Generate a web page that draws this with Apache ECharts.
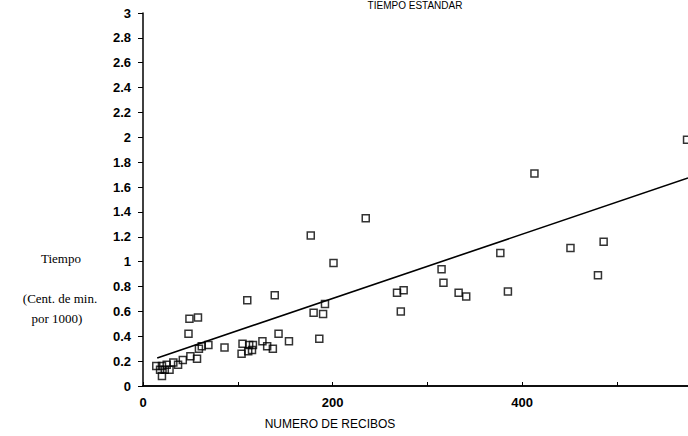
<!DOCTYPE html>
<html>
<head>
<meta charset="utf-8">
<script src="https://cdn.jsdelivr.net/npm/echarts@6/dist/echarts.min.js"></script>
<style>
html,body{margin:0;padding:0;background:#fff;}
#c{width:688px;height:436px;}
</style>
</head>
<body>
<div id="c"></div>
<script>
// Data
const recibosX = [574, 413, 235, 177, 201, 486, 451, 377, 480, 315, 317, 385, 268, 275, 272, 333, 341,
  192, 180, 190, 186, 139, 110, 143, 154, 137, 131, 126, 116, 112, 105, 104, 111, 115, 86, 69, 62, 59,
  49, 58, 48, 50, 57, 42, 37, 32, 14, 20, 25, 18, 23, 28, 20];
const tiempoY = [1.98, 1.71, 1.35, 1.21, 0.99, 1.16, 1.11, 1.07, 0.89, 0.94, 0.83, 0.76, 0.75, 0.77, 0.60, 0.75, 0.72,
  0.66, 0.59, 0.58, 0.38, 0.73, 0.69, 0.42, 0.36, 0.30, 0.32, 0.36, 0.33, 0.33, 0.34, 0.26, 0.28, 0.29, 0.31, 0.33, 0.32, 0.30,
  0.54, 0.55, 0.42, 0.24, 0.22, 0.21, 0.17, 0.19, 0.16, 0.16, 0.17, 0.13, 0.13, 0.13, 0.08];
const trendX = [15, 575];
const trendY = [0.226, 1.673];
const yTicks = [0, 0.2, 0.4, 0.6, 0.8, 1, 1.2, 1.4, 1.6, 1.8, 2, 2.2, 2.4, 2.6, 2.8, 3];
const xTickLabels = [0, 200, 400];

const points = recibosX.map((x, i) => [x, tiempoY[i]]);
const trend = trendX.map((x, i) => [x, trendY[i]]);

const serif = '13px "Liberation Serif", "Times New Roman", serif';
const chart = echarts.init(document.getElementById('c'), null, {renderer: 'svg'});
chart.setOption({
  animation: false,
  backgroundColor: '#fff',
  textStyle: {fontFamily: 'Liberation Sans, Arial, sans-serif', color: '#000'},
  title: {
    text: 'TIEMPO ESTANDAR',
    left: 415, top: 0, padding: 0, textAlign: 'center',
    textStyle: {fontSize: 10, fontWeight: 'normal', color: '#000', fontFamily: 'Liberation Sans, Arial, sans-serif'}
  },
  grid: {left: 143, right: 0, top: 13, bottom: 50, containLabel: false},
  xAxis: [{
    type: 'value', min: 0, max: 575, interval: 100,
    axisLine: {show: true, onZero: false, lineStyle: {color: '#000', width: 1.5}},
    axisTick: {show: true, inside: true, length: 4, lineStyle: {color: '#000'}},
    axisLabel: {
      showMaxLabel: false, margin: 10, fontSize: 13, fontWeight: 'bold', color: '#000',
      formatter: v => xTickLabels.indexOf(v) >= 0 ? String(v) : ''
    },
    splitLine: {show: false}
  }, {
    type: 'value', position: 'top', min: 0, max: 575,
    axisLine: {show: true, lineStyle: {color: '#000', width: 1.5}},
    axisTick: {show: false}, axisLabel: {show: false}, splitLine: {show: false}
  }],
  yAxis: {
    type: 'value', min: yTicks[0], max: yTicks[yTicks.length - 1], interval: 0.2,
    axisLine: {show: true, onZero: false, lineStyle: {color: '#000', width: 1.5}},
    axisTick: {show: true, length: 5, lineStyle: {color: '#000'}},
    axisLabel: {margin: 12, fontSize: 13, fontWeight: 'bold', color: '#000'},
    splitLine: {show: false}
  },
  series: [{
    type: 'scatter', xAxisIndex: 0, data: points, symbol: 'rect', symbolSize: 7,
    itemStyle: {color: 'rgba(255,255,255,0)', borderColor: '#000', borderWidth: 1.5},
    clip: false
  }, {
    type: 'line', xAxisIndex: 0, data: trend, symbol: 'none',
    lineStyle: {color: '#000', width: 1.6}
  }],
  graphic: [
    {type: 'text', style: {text: 'Tiempo', x: 61, y: 258, textAlign: 'center', textVerticalAlign: 'middle', font: serif, fill: '#000'}},
    {type: 'text', style: {text: '(Cent. de min.', x: 60, y: 298, textAlign: 'center', textVerticalAlign: 'middle', font: serif, fill: '#000'}},
    {type: 'text', style: {text: 'por 1000)', x: 57, y: 318, textAlign: 'center', textVerticalAlign: 'middle', font: serif, fill: '#000'}},
    {type: 'text', style: {text: 'NUMERO DE RECIBOS', x: 330, y: 424, textAlign: 'center', textVerticalAlign: 'middle',
      font: '12px "Liberation Sans", Arial, sans-serif', fill: '#000'}}
  ]
});
</script>
</body>
</html>
